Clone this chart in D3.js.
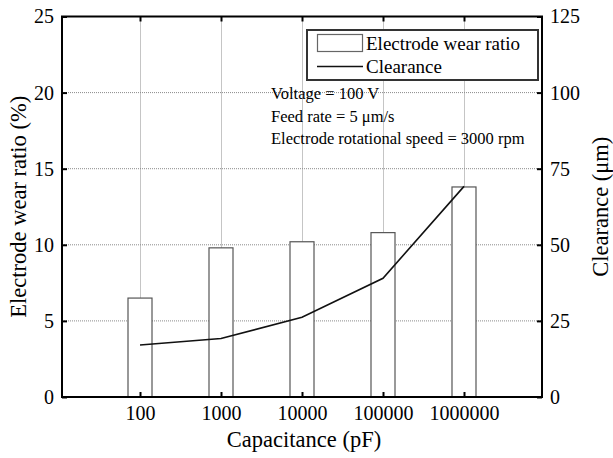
<!DOCTYPE html>
<html>
<head>
<meta charset="utf-8">
<script src="https://cdn.jsdelivr.net/npm/d3@7"></script>
<style>
  body { margin: 0; background: #fff; }
  svg { display: block; }
  text { font-family: "Liberation Serif", "Times New Roman", serif; fill: #000; }
</style>
</head>
<body>
<svg id="chart" width="613" height="458"></svg>
<script>
// Capacitance categories (pF)
const capacitance = ["100", "1000", "10000", "100000", "1000000"];
// Electrode wear ratio (%), left axis
const wearRatio = [6.5, 9.8, 10.2, 10.8, 13.8];
// Clearance (µm), right axis
const clearance = [17.1, 19.2, 26.2, 39.0, 69.2];
// Tick values
const leftTicks = [0, 5, 10, 15, 20, 25];
const rightTicks = [0, 25, 50, 75, 100, 125];
const notes = ["Voltage = 100 V", "Feed rate = 5 \u03bcm/s", "Electrode rotational speed = 3000 rpm"];

const SERIF = "Liberation Serif";
const svg = d3.select("#chart");
const m = { left: 62, right: 542, top: 16.5, bottom: 397 };

const x = d3.scalePoint().domain(capacitance).range([m.left, m.right]).padding(0.963);
const yL = d3.scaleLinear().domain([0, 25]).range([m.bottom, m.top]);
const yR = d3.scaleLinear().domain([0, 125]).range([m.bottom, m.top]);

const plotW = m.right - m.left, plotH = m.bottom - m.top;

// Dotted grid at category positions and inner left-axis ticks
const grid = svg.append("g").attr("stroke", "#8a8a8a").attr("stroke-width", 1).attr("stroke-dasharray", "1,1");
grid.selectAll("line.v").data(capacitance).join("line")
  .attr("x1", d => Math.round(x(d)) + 0.5).attr("x2", d => Math.round(x(d)) + 0.5)
  .attr("y1", m.top).attr("y2", m.bottom);
grid.selectAll("line.h").data(leftTicks.slice(1, -1)).join("line")
  .attr("x1", m.left).attr("x2", m.right).attr("y1", d => yL(d)).attr("y2", d => yL(d));

// Wear-ratio bars
const barW = 24;
svg.append("g").selectAll("rect").data(capacitance).join("rect")
  .attr("x", d => x(d) - barW / 2)
  .attr("width", barW)
  .attr("y", (d, i) => yL(wearRatio[i]))
  .attr("height", (d, i) => m.bottom - yL(wearRatio[i]))
  .attr("fill", "#fff").attr("stroke", "#555").attr("stroke-width", 1.2);

// Clearance line
const line = d3.line().x(d => x(d[0])).y(d => yR(d[1]));
svg.append("path")
  .datum(capacitance.map((c, i) => [c, clearance[i]]))
  .attr("d", line).attr("fill", "none").attr("stroke", "#111").attr("stroke-width", 1.6);

// Axes with inward ticks
const axB = svg.append("g").attr("transform", `translate(0,${m.bottom})`)
  .call(d3.axisBottom(x).tickSize(-5).tickPadding(9));
const axT = svg.append("g").attr("transform", `translate(0,${m.top})`)
  .call(d3.axisTop(x).tickSize(-5).tickFormat(""));
const axL = svg.append("g").attr("transform", `translate(${m.left},0)`)
  .call(d3.axisLeft(yL).tickValues(leftTicks).tickSize(-5).tickPadding(8));
const axR = svg.append("g").attr("transform", `translate(${m.right},0)`)
  .call(d3.axisRight(yR).tickValues(rightTicks).tickSize(-5).tickPadding(8));

[axB, axT, axL, axR].forEach(a => {
  a.attr("font-family", SERIF).attr("font-size", 20);
  a.select(".domain").remove();
  a.selectAll(".tick line").attr("stroke", "#000").attr("stroke-width", 2);
  a.selectAll("text").attr("font-family", SERIF).attr("font-size", 20).attr("fill", "#000");
});

// Plot frame
svg.append("rect").attr("x", m.left).attr("y", m.top).attr("width", plotW).attr("height", plotH)
  .attr("fill", "none").attr("stroke", "#000").attr("stroke-width", 2);

// Axis titles
const TITLE = 22.5;
svg.append("text").attr("x", (m.left + m.right) / 2 + 2).attr("y", 447)
  .attr("text-anchor", "middle").attr("font-family", SERIF).attr("font-size", TITLE).text("Capacitance (pF)");
svg.append("text").attr("transform", `translate(26,${(m.top + m.bottom) / 2}) rotate(-90)`)
  .attr("text-anchor", "middle").attr("font-family", SERIF).attr("font-size", TITLE).text("Electrode wear ratio (%)");
svg.append("text").attr("transform", `translate(608,${(m.top + m.bottom) / 2}) rotate(-90)`)
  .attr("text-anchor", "middle").attr("font-family", SERIF).attr("font-size", TITLE).text("Clearance (\u03bcm)");

// Legend
const lg = svg.append("g");
lg.append("rect").attr("x", 307).attr("y", 30).attr("width", 231).attr("height", 50)
  .attr("fill", "#fff").attr("stroke", "#333").attr("stroke-width", 2);
lg.append("rect").attr("x", 317.5).attr("y", 34.5).attr("width", 45).attr("height", 17)
  .attr("fill", "#fff").attr("stroke", "#666").attr("stroke-width", 1.2);
lg.append("line").attr("x1", 317).attr("x2", 363).attr("y1", 66.5).attr("y2", 66.5)
  .attr("stroke", "#111").attr("stroke-width", 1.6);
lg.append("text").attr("x", 366).attr("y", 50).attr("font-family", SERIF).attr("font-size", 19).text("Electrode wear ratio");
lg.append("text").attr("x", 366).attr("y", 73).attr("font-family", SERIF).attr("font-size", 19).text("Clearance");

// Machining conditions
svg.append("g").selectAll("text").data(notes).join("text")
  .attr("x", 271).attr("y", (d, i) => 99 + i * 22.5)
  .attr("font-family", SERIF).attr("font-size", 16.5).text(d => d);
</script>
</body>
</html>
